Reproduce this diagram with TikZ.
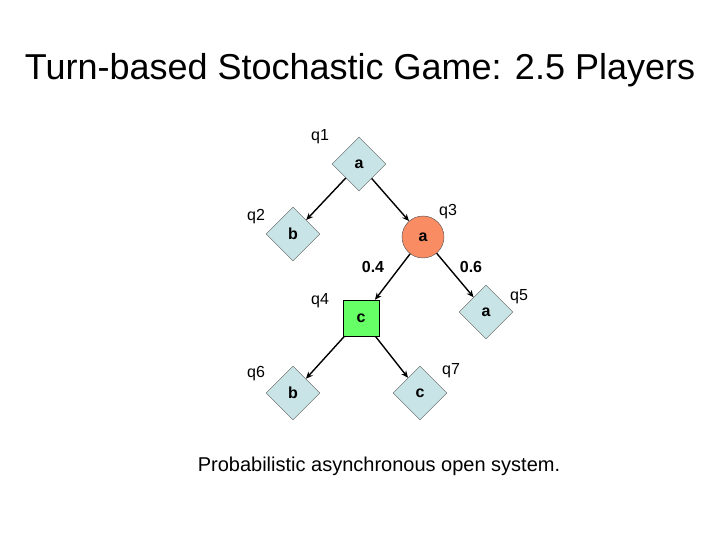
\documentclass[tikz,border=0pt]{standalone}
\usepackage{fontspec}
\setmainfont{Liberation Sans}
\usetikzlibrary{shapes.geometric,arrows.meta}
\definecolor{dfill}{RGB}{200,228,230}
\definecolor{cfill}{RGB}{250,140,100}
\definecolor{sfill}{RGB}{102,255,102}
\begin{document}
\begin{tikzpicture}[x=1pt,y=-1pt,
  dia/.style={diamond,draw=gray!70!black,fill=dfill,minimum size=54pt,inner sep=0pt,font=\fontsize{16}{16}\selectfont\bfseries},
  circ/.style={circle,draw=gray!60!black,fill=cfill,minimum size=42pt,inner sep=0pt,font=\fontsize{16}{16}\selectfont\bfseries},
  sq/.style={rectangle,draw=black,fill=sfill,minimum size=36pt,inner sep=0pt,font=\fontsize{16}{16}\selectfont\bfseries},
  lab/.style={font=\fontsize{16}{16}\selectfont},
  prob/.style={font=\fontsize{16}{16}\selectfont\bfseries},
  edge/.style={draw,line width=1.4pt,-{Stealth[length=7pt,width=6pt]}}]
\useasboundingbox (0,0) rectangle (720,540);
\node[font=\fontsize{36}{36}\selectfont] (title) at (360,70) {Turn-based Stochastic Game: 2.5 Players};
\node[dia] (q1) at (359,164) {a};
\node[dia] (q2) at (293,234) {b};
\node[circ] (q3) at (423,237) {a};
\node[sq] (q4) at (361,318) {c};
\node[dia] (q5) at (486,312) {a};
\node[dia] (q6) at (293,393) {b};
\node[dia] (q7) at (420,393) {c};
\node[lab] (l1) at (320,137) {q1};
\node[lab] (l2) at (256,217) {q2};
\node[lab] (l3) at (448,212) {q3};
\node[lab] (l4) at (320,301) {q4};
\node[lab] (l5) at (519,297) {q5};
\node[lab] (l6) at (256,374) {q6};
\node[lab] (l7) at (451,371) {q7};
\path[edge] (q1) -- (q2);
\path[edge] (q1) -- (q3);
\path[edge] (q3) -- (q4);
\path[edge] (q3) -- (q5);
\path[edge] (q4) -- (q6);
\path[edge] (q4) -- (q7);
\node[prob] (p4) at (373,267) {0.4};
\node[prob] (p6) at (471,267) {0.6};
\node[font=\fontsize{20}{20}\selectfont] (cap) at (379,466) {Probabilistic asynchronous open system.};
\end{tikzpicture}
\end{document}
